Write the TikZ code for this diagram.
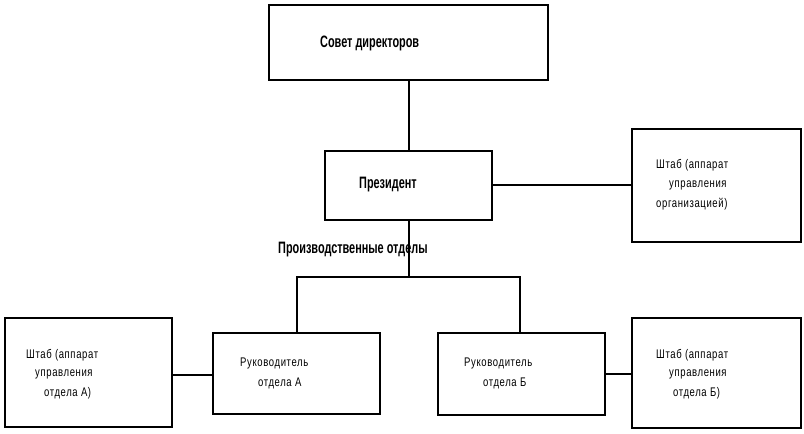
\documentclass[tikz,border=0pt]{standalone}
\usepackage{fontspec}
\setmainfont{Liberation Sans}
\newfontfamily\narrowfont[FakeStretch=0.66]{Liberation Sans}
\newfontfamily\staffont[FakeStretch=0.76,LetterSpace=5]{Liberation Sans}
\begin{document}
\begin{tikzpicture}[x=1pt,y=-1pt,
  box/.style={draw=black,line width=2.6pt,fill=white},
  conn/.style={draw=black,line width=2.6pt},
  bt/.style={anchor=west,inner sep=0pt,font=\narrowfont\bfseries\fontsize{16.5}{18}\selectfont},
  st/.style={anchor=west,inner sep=0pt,font=\staffont\fontsize{12.5}{14}\selectfont}]
\useasboundingbox[fill=white] (0,0) rectangle (804,434);
% boxes
\draw[box] (269,5) rectangle (548,80);
\coordinate (sovetS) at (409,80);
\draw[box] (325,151) rectangle (492,220);
\coordinate (presN) at (409,151);
\coordinate (presS) at (409,220);
\coordinate (presE) at (492,185);
\draw[box] (632,129) rectangle (801,242);
\coordinate (staffW) at (632,185);
\draw[box] (5,318) rectangle (172,427);
\coordinate (staffAE) at (172,375);
\draw[box] (213,333) rectangle (380,414);
\coordinate (leadAN) at (297,333);
\coordinate (leadAW) at (213,375);
\draw[box] (438,333) rectangle (605,415);
\coordinate (leadBN) at (520,333);
\coordinate (leadBE) at (605,374);
\draw[box] (632,318) rectangle (801,428);
\coordinate (staffBW) at (632,374);
\coordinate (fork) at (409,277);
% connectors
\draw[conn] (sovetS) -- (presN);
\draw[conn] (presE) -- (staffW);
\draw[conn] (presS) -- (fork);
\draw[conn] (leadAN) |- (fork) -| (leadBN);
\draw[conn] (staffAE) -- (leadAW);
\draw[conn] (leadBE) -- (staffBW);
% texts
\node[bt] (t1) at (320,43) {Совет директоров};
\node[bt] (t2) at (359,185) {Президент};
\node[bt] (t3) at (278,250) {Производственные отделы};
\node[st] (s1) at (656,165) {Штаб (аппарат};
\node[st] (s2) at (669,185) {управления};
\node[st] (s3) at (656,204) {организацией)};
\node[st] (a1) at (26,355) {Штаб (аппарат};
\node[st] (a2) at (35,374) {управления};
\node[st] (a3) at (44,393) {отдела А)};
\node[st] (la1) at (240,363) {Руководитель};
\node[st] (la2) at (258,383) {отдела А};
\node[st] (lb1) at (464,363) {Руководитель};
\node[st] (lb2) at (483,383) {отдела Б};
\node[st] (b1) at (656,355) {Штаб (аппарат};
\node[st] (b2) at (669,374) {управления};
\node[st] (b3) at (673,393) {отдела Б)};
\end{tikzpicture}
\end{document}
